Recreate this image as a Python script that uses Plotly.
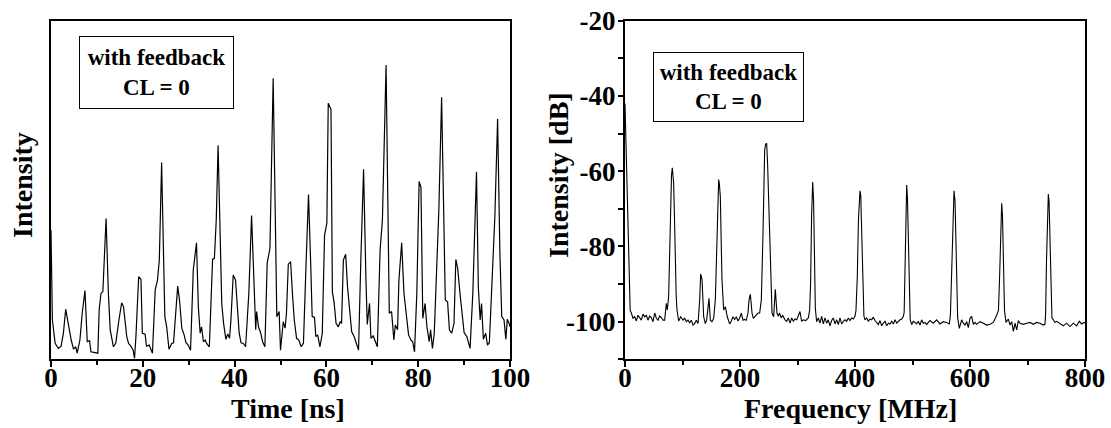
import plotly.graph_objects as go

# ---------------- data: left panel (time trace) ----------------
time_ns = [0.0, 0.3, 0.9, 1.6, 2.2, 2.7, 3.2, 3.8, 4.4, 4.9, 5.4, 5.7, 6.3, 6.8, 7.4, 7.9, 8.4, 8.7, 9.6, 10.2,
           10.5, 10.9, 11.3, 12.0, 12.5, 12.9, 13.6, 14.1, 14.8, 15.4, 15.8, 16.5, 16.9, 17.4, 17.9, 18.2, 18.5, 19.1, 19.6, 19.9,
           20.5, 20.8, 21.4, 21.8, 22.1, 22.7, 23.2, 23.6, 24.1, 24.8, 25.2, 25.7, 26.3, 26.7, 27.2, 27.6, 28.0, 28.5, 29.0, 29.4,
           29.9, 30.4, 31.0, 31.4, 31.7, 32.1, 32.5, 32.8, 33.2, 33.6, 33.9, 34.5, 35.2, 35.6, 36.0, 36.4, 36.8, 37.2, 37.6, 38.1,
           38.5, 38.9, 39.2, 39.7, 40.2, 40.6, 41.0, 41.4, 41.9, 42.4, 43.1, 43.7, 44.2, 44.6, 44.8, 45.2, 45.7, 46.1, 46.6, 47.1,
           47.7, 48.4, 49.2, 49.7, 50.0, 50.6, 51.0, 51.3, 51.7, 52.2, 52.6, 53.0, 53.5, 54.0, 54.5, 55.0, 55.5, 56.1, 56.6, 56.9,
           57.4, 57.7, 58.1, 58.6, 59.1, 59.6, 60.1, 60.4, 61.0, 61.3, 61.7, 62.1, 62.6, 63.0, 63.3, 63.7, 64.2, 64.6, 65.1, 65.5,
           66.1, 66.6, 67.0, 67.5, 68.1, 68.6, 68.9, 69.4, 69.7, 70.2, 70.6, 71.1, 71.7, 72.2, 73.0, 73.7, 74.2, 74.7, 75.0, 75.5,
           75.8, 76.4, 76.9, 77.5, 77.9, 78.4, 78.8, 79.2, 79.7, 80.2, 80.6, 81.0, 81.5, 81.9, 82.4, 82.7, 83.1, 83.5, 84.0, 84.5,
           85.1, 85.6, 85.9, 86.4, 86.8, 87.3, 87.8, 88.2, 88.6, 89.1, 89.6, 90.0, 90.6, 90.9, 91.3, 91.9, 92.4, 92.7, 93.1, 93.5,
           93.8, 94.2, 94.7, 95.1, 95.5, 96.0, 96.7, 97.3, 97.8, 98.2, 98.7, 99.1, 99.4, 99.8, 100.0]
intensity = [38.2, 11.6, 4.7, 3.2, 3.9, 7.7, 14.8, 9.6, 5.7, 3.0, 3.7, 1.8, 5.7, 13.6, 20.3, 5.2, 5.5, 2.2, 2.0, 1.8,
             14.8, 19.5, 20.0, 41.6, 19.5, 8.7, 3.7, 4.7, 11.6, 16.7, 15.5, 6.7, 4.7, 3.9, 2.7, 0.3, 6.7, 24.4, 23.6, 7.7,
             7.4, 3.9, 4.2, 2.7, 1.8, 20.5, 23.4, 29.3, 58.1, 12.6, 9.6, 3.0, 4.7, 4.9, 14.6, 21.6, 17.5, 9.2, 7.2, 4.9,
             4.2, 2.7, 26.4, 30.3, 34.4, 15.5, 7.7, 9.6, 5.2, 5.7, 4.7, 3.7, 29.5, 29.8, 41.1, 63.2, 39.2, 16.5, 10.6, 5.9,
             7.5, 6.2, 11.6, 24.9, 23.4, 13.6, 7.7, 4.9, 4.7, 3.7, 19.5, 42.5, 21.4, 8.7, 14.1, 9.6, 7.7, 5.2, 3.7, 28.4,
             32.8, 83.0, 12.6, 14.1, 2.7, 11.1, 9.2, 13.6, 28.1, 28.8, 19.5, 11.6, 6.2, 5.7, 3.7, 4.7, 25.4, 48.7, 27.3, 12.6,
             12.4, 6.7, 7.2, 3.7, 7.7, 36.7, 40.2, 75.6, 73.8, 20.0, 16.5, 10.6, 9.6, 11.1, 10.6, 29.3, 31.0, 21.4, 14.1, 8.2,
             6.5, 4.7, 2.7, 29.3, 56.1, 24.4, 10.3, 16.5, 6.2, 6.9, 5.4, 3.7, 32.3, 41.1, 86.9, 13.6, 14.1, 5.7, 10.1, 8.7,
             23.4, 34.4, 19.5, 11.6, 7.2, 5.7, 5.2, 2.2, 19.5, 52.5, 50.8, 12.1, 16.5, 9.6, 5.2, 8.7, 3.2, 7.7, 29.3, 44.1,
             77.4, 35.2, 17.5, 17.0, 8.7, 7.7, 10.6, 29.5, 26.9, 19.5, 12.6, 7.9, 6.7, 5.2, 3.2, 19.5, 42.1, 55.4, 21.4, 11.6,
             16.5, 5.9, 7.7, 4.2, 4.9, 19.5, 42.1, 71.0, 31.3, 12.6, 11.6, 5.9, 11.8, 10.6, 9.6]

# ---------------- data: right panel (RF spectrum) ----------------
freq_mhz = [0, 2, 4, 5.5, 7, 9, 11, 13.9, 16.8, 19.7, 22.6, 25.5, 28.4, 31.3, 34.2, 37.1, 40.0, 42.9, 45.8, 48.7,
            51.6, 54.5, 57.4, 60.3, 63.2, 66.1, 69.0, 71.9, 73.6, 75.9, 77.5, 79.4, 80.9, 82.3, 83.5, 84.6, 86.0, 87.5, 89.0, 90.4,
            93.3, 96.8, 100.9, 103.8, 106.7, 109.6, 112.5, 115.4, 118.3, 121.2, 124.1, 127.0, 129.9, 131.6, 133.0, 134.0, 135.5, 136.8, 139.7, 142.0,
            144.3, 146.1, 148.4, 151.3, 154.2, 157.1, 160.0, 161.5, 162.9, 164.2, 165.8, 167.2, 168.7, 171.6, 174.5, 177.9, 182.0, 184.9, 187.8, 190.7,
            193.6, 196.5, 199.4, 202.3, 205.2, 208.1, 211.0, 213.9, 215.7, 218.0, 219.5, 220.9, 223.2, 225.5, 228.4, 231.3, 234.2, 237.1, 240.0, 242.9,
            244.5, 246.4, 248.0, 249.9, 252.8, 255.7, 258.6, 261.4, 264.3, 266.5, 268.7, 271.6, 274.2, 278.3, 281.2, 284.1, 287.0, 289.9, 292.8, 295.7,
            298.6, 301.4, 304.3, 307.2, 310.1, 314.2, 318.8, 321.1, 322.8, 324.5, 326.4, 328.0, 329.5, 331.0, 333.3, 336.2, 339.1, 342.0, 344.9, 347.8,
            350.7, 353.6, 356.5, 359.4, 362.3, 365.2, 368.1, 371.0, 373.9, 376.8, 379.7, 382.6, 385.5, 388.4, 391.3, 394.2, 397.1, 400.0, 401.7, 404.0,
            406.0, 407.5, 408.7, 410.0, 411.5, 413.5, 415.5, 417.4, 420.3, 423.2, 426.1, 429.0, 431.9, 434.8, 437.7, 440.6, 443.5, 446.4, 449.3, 452.2,
            455.1, 458.0, 460.9, 463.8, 466.7, 469.6, 472.5, 475.4, 478.3, 481.2, 484.1, 485.5, 487.0, 488.5, 489.9, 491.2, 492.5, 494.0, 496.0, 498.6,
            501.4, 504.3, 507.2, 510.1, 513.0, 515.9, 518.8, 521.7, 524.6, 527.5, 530.4, 536.2, 542.0, 547.8, 553.6, 559.4, 564.1, 566.0, 568.0, 570.0,
            572.2, 574.0, 575.5, 577.0, 578.5, 581.4, 583.5, 585.5, 588.4, 591.3, 594.2, 597.1, 600.0, 602.9, 605.8, 608.7, 611.6, 617.4, 623.2, 629.0,
            634.8, 640.6, 646.4, 649.5, 651.5, 653.5, 655.1, 656.5, 658.0, 660.0, 662.6, 666.7, 669.6, 672.5, 675.4, 678.3, 681.2, 684.1, 687.0, 692.8,
            698.6, 704.3, 710.1, 715.9, 721.7, 727.5, 730.4, 731.5, 733.0, 734.5, 736.2, 737.5, 739.0, 740.5, 742.5, 744.9, 747.8, 750.7, 756.5, 762.3,
            768.1, 773.9, 779.7, 785.5, 790.1, 794.2, 798.3, 800]
power_db = [-42, -55, -68, -80, -92, -97, -97.7, -99.1, -98.7, -99.8, -98.3, -99.1, -99.6, -98.0, -98.7, -98.3, -99.6, -98.5, -98.9, -100.0,
            -97.7, -99.1, -99.6, -98.5, -98.9, -99.6, -99.6, -95.1, -96.9, -93.3, -82, -67.6, -61, -59.1, -60.5, -63.2, -72, -85.4, -93, -96.9,
            -99.8, -98.7, -99.6, -99.1, -100.0, -99.6, -100.3, -99.6, -100.9, -100.5, -99.6, -100.5, -94.2, -87.3, -88.0, -88.9, -94, -98.7, -100.5, -99.6,
            -96.4, -93.8, -99.6, -100.0, -99.1, -94.2, -78.3, -66, -62.2, -63.5, -66.8, -78, -88.9, -96.9, -96.0, -98.7, -100.6, -99.8, -98.7, -99.4,
            -98.7, -99.8, -99.1, -97.7, -99.6, -99.4, -99.6, -97.7, -94.2, -92.7, -96, -97.7, -99.1, -98.7, -98.3, -97.7, -97.7, -94.2, -76.5, -54.4,
            -52.8, -52.6, -58, -67.6, -88.0, -97.7, -98.7, -91.4, -97.7, -98.6, -97.7, -99.0, -98.3, -99.5, -99.9, -99.0, -100.4, -99.0, -99.9, -99.3,
            -99.5, -98.6, -97.3, -99.9, -99.5, -99.7, -99.0, -97, -89.8, -72, -62.9, -68, -84, -96.5, -100.0, -99.0, -100.4, -98.6, -100.6, -99.0,
            -100.4, -99.5, -101.1, -99.7, -99.0, -100.6, -99.5, -100.8, -99.0, -100.6, -99.9, -99.5, -99.9, -99.0, -99.7, -99.0, -99.3, -98.6, -97.0, -88,
            -73, -66.5, -65.2, -66.5, -74, -89, -98.5, -99.5, -99.0, -99.9, -99.3, -99.5, -98.8, -99.7, -100.2, -100.8, -99.7, -101.1, -100.4, -99.9,
            -101.1, -100.4, -100.6, -99.9, -100.6, -99.5, -100.4, -99.9, -99.5, -99.3, -98.6, -97.5, -85, -70, -63.7, -67, -78, -92, -99.5, -100.8,
            -99.9, -100.2, -100.6, -99.9, -100.9, -99.5, -100.4, -100.2, -100.8, -100.2, -99.7, -100.4, -99.5, -100.6, -100.0, -100.2, -100.6, -98, -86, -71,
            -65.2, -68, -79, -93, -99, -101.8, -100.2, -99.5, -100.4, -100.9, -100.0, -101.6, -99.1, -98.6, -100.7, -100.2, -100.7, -100.0, -100.4, -100.9,
            -100.7, -100.2, -98.3, -97, -88, -74, -68.5, -72, -85, -97, -100.2, -99.3, -100.9, -100.0, -102.6, -100.4, -102.2, -99.7, -100.4, -100.7,
            -100.4, -100.2, -100.7, -100.2, -100.4, -100.9, -100.7, -98, -84, -70, -66.1, -68, -78, -92, -99, -99.5, -100.2, -99.9, -100.6, -101.1,
            -100.4, -101.3, -100.4, -101.1, -99.9, -100.6, -100.2, -100.4]

# ---------------- tick labels ----------------
time_ticks = [0, 20, 40, 60, 80, 100]
time_minor = [10, 30, 50, 70, 90]
freq_ticks = [0, 200, 400, 600, 800]
freq_minor = [100, 300, 500, 700]
db_tickvals = [-110, -100, -90, -80, -70, -60, -50, -40, -30, -20]
db_ticktext = ["", "-100", "", "-80", "", "-60", "", "-40", "", "-20"]

W, H = 1111, 428
FONT = "Liberation Serif"


def px_x(p):
    return p / W


def px_y(p):
    return 1 - p / H


fig = go.Figure()
fig.add_trace(go.Scatter(x=time_ns, y=intensity, mode="lines",
                         line=dict(color="black", width=1.2), xaxis="x", yaxis="y",
                         showlegend=False))
fig.add_trace(go.Scatter(x=freq_mhz, y=power_db, mode="lines",
                         line=dict(color="black", width=1.1), xaxis="x2", yaxis="y2",
                         showlegend=False))

tickfont = dict(family=FONT, size=27, color="black", weight="bold")
axis_common = dict(showline=True, linewidth=2, linecolor="black", mirror=True,
                   showgrid=False, zeroline=False, tickfont=tickfont,
                   ticks="outside", tickwidth=2, tickcolor="black",
                   automargin=False)

y_dom = [px_y(359.3), px_y(20.7)]

fig.update_layout(
    width=W, height=H, autosize=False,
    margin=dict(l=0, r=0, t=0, b=0, pad=0, autoexpand=False),
    paper_bgcolor="white", plot_bgcolor="white",
    xaxis=dict(domain=[px_x(51), px_x(510)], range=[0, 100], tickmode="array",
               tickvals=time_ticks, ticklen=6, ticklabelstandoff=-13,
               minor=dict(tickmode="array", tickvals=time_minor, ticklen=4,
                          tickwidth=2, ticks="outside", tickcolor="black"),
               anchor="y", **axis_common),
    yaxis=dict(domain=y_dom, range=[0, 100], showticklabels=False,
               anchor="x", **{**axis_common, "ticks": ""}),
    xaxis2=dict(domain=[px_x(625), px_x(1085)], range=[0, 800], tickmode="array",
                tickvals=freq_ticks, ticklen=6, ticklabelstandoff=-13,
                minor=dict(tickmode="array", tickvals=freq_minor, ticklen=4,
                           tickwidth=2, ticks="outside", tickcolor="black"),
                anchor="y2", **axis_common),
    yaxis2=dict(domain=y_dom, range=[-110, -20], tickmode="array",
                tickvals=db_tickvals, ticktext=db_ticktext, ticklen=5,
                ticklabelstandoff=-3,
                anchor="x2", **axis_common),
)

title_font = dict(family=FONT, size=28, color="black", weight="bold")
box_font = dict(family=FONT, size=23, color="black", weight="bold")

annotations = [
    dict(text="Intensity", x=px_x(23), y=px_y(185), textangle=-90, font=title_font),
    dict(text="Intensity [dB]", x=px_x(558), y=px_y(175), textangle=-90, font=title_font),
    dict(text="Time [ns]", x=px_x(287.5), y=px_y(408), font=title_font),
    dict(text="Frequency [MHz]", x=px_x(850), y=px_y(408), font=title_font),
    dict(text="with feedback<br>CL = 0", x=px_x(156.8), y=px_y(72), font=box_font,
         bordercolor="black", borderwidth=1, borderpad=2, width=149, height=67,
         bgcolor="white"),
    dict(text="with feedback<br>CL = 0", x=px_x(728), y=px_y(86.7), font=box_font,
         bordercolor="black", borderwidth=1, borderpad=2, width=145, height=64,
         bgcolor="white"),
]
for a in annotations:
    a.update(xref="paper", yref="paper", xanchor="center", yanchor="middle",
             showarrow=False)
fig.update_layout(annotations=annotations)

fig.write_html("out.html")
